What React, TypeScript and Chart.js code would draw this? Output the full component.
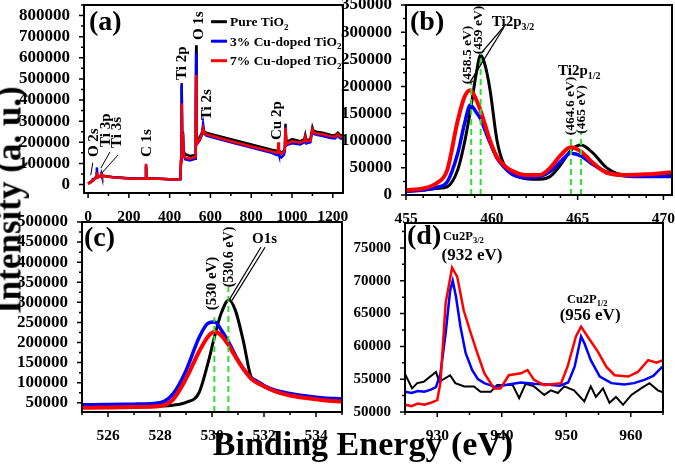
import React, { useEffect, useRef } from "react";
import { Chart, registerables } from "chart.js";

Chart.register(...registerables);

const FONT = "'Liberation Serif', 'Times New Roman', Times, serif";
const BLACK = "#000000";
const BLUE = "#0000ff";
const RED = "#ff0000";
const GREEN = "#2ee02e";

// ---------- (a) survey spectrum ----------
const SURVEY_E = [0, 15, 22, 24, 30, 40, 43, 46, 55, 62, 65, 68, 80, 120, 200, 280, 284, 288, 350, 420, 452, 456, 459, 462, 465, 468, 475, 500, 525, 528, 530, 532, 536, 548, 558, 564, 570, 580, 600, 700, 800, 900, 925, 930, 933, 936, 948, 960, 965, 968, 972, 980, 1000, 1040, 1060, 1065, 1070, 1090, 1100, 1105, 1120, 1150, 1190, 1210, 1225, 1235, 1250];
const SURVEY_PURE = [6000, 14000, 22000, 26000, 26000, 35000, 60000, 33000, 38000, 40000, 48000, 40000, 40000, 36000, 30000, 28000, 85000, 30000, 27000, 24000, 26000, 120000, 470000, 180000, 250000, 160000, 145000, 135000, 140000, 300000, 660000, 250000, 205000, 225000, 245000, 270000, 250000, 245000, 240000, 215000, 190000, 165000, 160000, 160000, 165000, 160000, 150000, 160000, 175000, 288000, 200000, 205000, 215000, 205000, 215000, 235000, 210000, 215000, 270000, 255000, 250000, 245000, 235000, 232000, 245000, 235000, 230000];
const SURVEY_CU3 = [4000, 12000, 20000, 24000, 25000, 38000, 81000, 34000, 38000, 42000, 52000, 40000, 40000, 34000, 29000, 27000, 95000, 28000, 27000, 24000, 25000, 110000, 481000, 170000, 245000, 150000, 120000, 114000, 122000, 280000, 622000, 230000, 195000, 210000, 235000, 285000, 240000, 232000, 226000, 200000, 175000, 150000, 140000, 140000, 150000, 140000, 128000, 140000, 160000, 275000, 185000, 190000, 195000, 190000, 200000, 222000, 195000, 200000, 255000, 240000, 235000, 230000, 220000, 218000, 232000, 220000, 215000];
const SURVEY_CU7 = [3000, 11000, 19000, 22000, 24000, 33000, 58000, 33000, 37000, 40000, 47000, 40000, 40000, 35000, 29000, 27000, 98000, 28000, 27000, 24000, 25000, 110000, 384000, 160000, 240000, 150000, 128000, 122000, 130000, 250000, 518000, 220000, 195000, 215000, 240000, 265000, 245000, 238000, 232000, 205000, 180000, 157000, 150000, 150000, 200000, 160000, 145000, 155000, 170000, 270000, 190000, 195000, 205000, 198000, 208000, 225000, 205000, 208000, 260000, 248000, 242000, 238000, 228000, 226000, 238000, 228000, 224000];
const A_XTICKS = [0, 200, 400, 600, 800, 1000, 1200];
const A_YTICKS = [0, 100000, 200000, 300000, 400000, 500000, 600000, 700000, 800000];
const A_LABELS: [string, number, number][] = [
  ["O 1s", 544, 684000],
  ["Ti 2p", 460, 495000],
  ["Ti 2s", 583, 305000],
  ["Cu 2p", 926, 211000],
  ["C 1s", 289, 130000],
  ["O 2s", 29, 130000],
  ["Ti 3p", 88, 178000],
  ["Ti 3s", 142, 173000],
];
const A_ARROWS: [number, number, number, number][] = [
  [23, 103000, 13, 44000],
  [107, 154000, 63, 78000],
  [147, 140000, 68, 55000],
];
const LEGEND = ["Pure TiO", "3% Cu-doped TiO", "7% Cu-doped TiO"];

// ---------- (b) Ti 2p ----------
const TI_E = [455, 456, 456.8, 457.4, 458, 458.4, 458.75, 459.1, 459.35, 459.6, 459.9, 460.3, 460.7, 461.2, 462, 462.8, 463.4, 464, 464.6, 465.2, 465.9, 466.7, 467.8, 469, 470.5];
const TI_PURE = [7000, 9000, 12000, 15000, 45000, 95000, 155000, 225000, 258000, 240000, 193000, 101000, 57000, 40000, 30000, 29000, 34000, 55000, 82000, 92000, 77000, 50000, 37000, 37000, 40000];
const TI_CU3 = [7000, 9000, 14000, 24000, 75000, 130000, 166000, 152000, 140000, 120000, 96000, 68000, 52000, 38000, 32000, 34000, 43000, 61000, 77000, 72000, 56000, 42000, 35000, 34000, 34000];
const TI_CU7 = [9000, 12000, 22000, 46000, 135000, 180000, 193000, 175000, 155000, 130000, 100000, 70000, 55000, 44000, 37000, 37000, 50000, 73000, 88000, 80000, 59000, 41000, 37000, 38000, 42000];
const B_XTICKS = [455, 460, 465, 470];
const B_YTICKS = [0, 50000, 100000, 150000, 200000, 250000, 300000, 350000];
const TI_MARK_E = [458.8, 459.35, 464.61, 465.2];
const TI_MARK_TOP = [208000, 261000, 114000, 114000];

// ---------- (c) O 1s ----------
const O_E = [525, 526, 527, 528, 528.5, 529, 529.5, 529.85, 530.1, 530.35, 530.65, 530.9, 531.2, 531.5, 531.7, 532, 532.4, 533, 533.7, 534.3, 535];
const O_PURE = [41000, 41000, 41000, 42000, 44000, 51000, 75000, 150000, 215000, 272000, 306000, 280000, 205000, 115000, 104000, 90000, 79000, 70000, 63000, 59000, 57000];
const O_CU3 = [45000, 45500, 46500, 50000, 72000, 130000, 212000, 248000, 251000, 232000, 200000, 168000, 135000, 113000, 105000, 93000, 82000, 73000, 66000, 62000, 60000];
const O_CU7 = [37500, 38000, 39500, 42000, 58000, 110000, 177000, 215000, 227000, 218000, 192000, 165000, 135000, 110000, 101000, 91000, 79000, 68000, 61000, 56000, 53000];
const C_XTICKS = [526, 528, 530, 532, 534];
const C_YTICKS = [50000, 100000, 150000, 200000, 250000, 300000, 350000, 400000, 450000, 500000];
const O_MARK_E = [530.09, 530.63];
const O_MARK_TOP = [263000, 338000];

// ---------- (d) Cu 2p ----------
const CU_E_PURE = [925, 926.1, 926.9, 927.9, 929.8, 930.3, 932, 932.8, 934.2, 935.7, 936.7, 938.3, 939.3, 941.7, 942.7, 943.7, 945, 946.6, 947.6, 948.7, 949.7, 951.2, 952.8, 953.8, 954.6, 955.7, 956.7, 957.7, 958.8, 960.1, 961.6, 962.9, 964.2, 965];
const CU_PURE = [55800, 53600, 54400, 54600, 56100, 54600, 55600, 54400, 53900, 53900, 53100, 53100, 54100, 54100, 52100, 54300, 53900, 52600, 53300, 52900, 53900, 53300, 51600, 53900, 52300, 53600, 51400, 52300, 51100, 52600, 53600, 54400, 53300, 53000];
const CU_E_CU3 = [925, 926, 927, 928, 929, 929.8, 930.5, 931.3, 932, 932.4, 932.9, 933.6, 934.4, 935.4, 936.3, 937.3, 939, 941, 943, 945, 947, 949, 950.3, 951.3, 952.3, 952.8, 953.8, 955.2, 957, 959, 960.5, 962.1, 963.5, 965];
const CU_CU3 = [53100, 52900, 53200, 53100, 53400, 53800, 55900, 62000, 68500, 70000, 67600, 63000, 59000, 56400, 55000, 54400, 53800, 54200, 54500, 54300, 54200, 54000, 54500, 56900, 61500, 60500, 57900, 55400, 54400, 54200, 54400, 54900, 55500, 57000];
const CU_E_CU7 = [925, 926, 927, 928, 929, 930, 930.5, 931.3, 932.3, 933.1, 934.1, 935.2, 936.2, 937.3, 938.8, 939.8, 941.1, 943, 944, 945, 946.6, 949.2, 950.2, 951.5, 952.3, 953.3, 954.9, 956.2, 957.5, 959.6, 961.1, 962.7, 964, 965];
const CU_CU7 = [51100, 50900, 51300, 51100, 51400, 51800, 54500, 66600, 72000, 70600, 65500, 62000, 59000, 55900, 53600, 53600, 55600, 55900, 56400, 54900, 54100, 54400, 56900, 61500, 63000, 61500, 59200, 56900, 55600, 55400, 56100, 57900, 57500, 57900];
const D_XTICKS = [930, 940, 950, 960];
const D_YTICKS = [50000, 55000, 60000, 65000, 70000, 75000];

// ---------- helpers ----------
const YW = 82, XH = 32, PT = 12, PR = 16;

type Geo = { L: number; T: number; R: number; B: number };
type AxisSpec = { min: number; max: number; ticks: number[]; minor: number; size: number };
type Deco = (ctx: CanvasRenderingContext2D, X: (v: number) => number, Y: (v: number) => number, ca: any) => void;

function txt(ctx: CanvasRenderingContext2D, s: string, x: number, y: number, size: number, align: CanvasTextAlign = "left", base: CanvasTextBaseline = "alphabetic") {
  ctx.font = `bold ${size}px ${FONT}`;
  ctx.textAlign = align;
  ctx.textBaseline = base;
  ctx.fillStyle = "#000";
  ctx.fillText(s, x, y);
}
function vtxt(ctx: CanvasRenderingContext2D, s: string, x: number, y: number, size: number, align: CanvasTextAlign = "left") {
  ctx.save();
  ctx.translate(x, y);
  ctx.rotate(-Math.PI / 2);
  txt(ctx, s, 0, 0, size, align, "middle");
  ctx.restore();
}
function subTxt(ctx: CanvasRenderingContext2D, main: string, sub: string, x: number, y: number, size: number, subSize: number) {
  txt(ctx, main, x, y, size);
  const w = ctx.measureText(main).width;
  txt(ctx, sub, x + w, y + size * 0.28, subSize);
}
function seg(ctx: CanvasRenderingContext2D, x1: number, y1: number, x2: number, y2: number) {
  ctx.beginPath();
  ctx.moveTo(x1, y1);
  ctx.lineTo(x2, y2);
  ctx.stroke();
}
function minorVals(a: AxisSpec) {
  const out: number[] = [];
  const start = Math.ceil(a.min / a.minor) * a.minor;
  for (let v = start; v <= a.max + 1e-9; v += a.minor) {
    const r = Math.round(v * 1000) / 1000;
    if (!a.ticks.some((t) => Math.abs(t - r) < 1e-6)) out.push(r);
  }
  return out;
}

const curve = (xs: number[], ys: number[], color: string, width: number, order: number, smooth = false) => ({
  data: xs.map((x, i) => ({ x, y: ys[i] })),
  borderColor: color,
  backgroundColor: color,
  borderWidth: width,
  pointRadius: 0,
  fill: false,
  tension: 0,
  cubicInterpolationMode: smooth ? "monotone" : "default",
  order,
});
const marker = (x: number, bottom: number, top: number) => ({
  data: [{ x, y: bottom }, { x, y: top }],
  borderColor: GREEN,
  borderWidth: 2,
  borderDash: [6, 4],
  pointRadius: 0,
  fill: false,
  order: 0,
});

function buildConfig(xa: AxisSpec, ya: AxisSpec, datasets: any[], deco: Deco) {
  const plugin = {
    id: "deco",
    afterDraw(chart: any) {
      const ctx: CanvasRenderingContext2D = chart.ctx;
      const ca = chart.chartArea;
      const xs = chart.scales.x;
      const ys = chart.scales.y;
      const X = (v: number) => xs.getPixelForValue(v);
      const Y = (v: number) => ys.getPixelForValue(v);
      ctx.save();
      ctx.strokeStyle = "#000";
      ctx.lineWidth = 2;
      ctx.strokeRect(ca.left, ca.top, ca.right - ca.left, ca.bottom - ca.top);
      ctx.lineWidth = 1.5;
      ctx.beginPath();
      xa.ticks.forEach((v) => { const p = X(v); ctx.moveTo(p, ca.bottom); ctx.lineTo(p, ca.bottom + 5); });
      minorVals(xa).forEach((v) => { const p = X(v); ctx.moveTo(p, ca.bottom); ctx.lineTo(p, ca.bottom + 3); });
      ya.ticks.forEach((v) => { const p = Y(v); ctx.moveTo(ca.left, p); ctx.lineTo(ca.left - 5, p); });
      minorVals(ya).forEach((v) => { const p = Y(v); ctx.moveTo(ca.left, p); ctx.lineTo(ca.left - 3, p); });
      ctx.stroke();
      ctx.strokeStyle = "#000";
      ctx.lineWidth = 1.2;
      deco(ctx, X, Y, ca);
      ctx.restore();
    },
  };
  return {
    type: "line",
    data: { datasets },
    options: {
      responsive: false,
      animation: false,
      devicePixelRatio: 1,
      layout: { padding: { top: PT, right: PR, left: 0, bottom: 0 } },
      plugins: { legend: { display: false }, tooltip: { enabled: false }, title: { display: false } },
      elements: { point: { radius: 0 } },
      scales: {
        x: {
          type: "linear",
          min: xa.min,
          max: xa.max,
          grid: { display: false },
          border: { display: false },
          afterBuildTicks: (s: any) => { s.ticks = xa.ticks.map((v) => ({ value: v })); },
          afterFit: (s: any) => { s.height = XH; s.paddingLeft = 0; s.paddingRight = 0; },
          ticks: { autoSkip: false, maxRotation: 0, padding: 7, color: "#000", font: { family: FONT, weight: "bold", size: xa.size }, callback: (v: any) => String(v) },
        },
        y: {
          type: "linear",
          min: ya.min,
          max: ya.max,
          grid: { display: false },
          border: { display: false },
          afterBuildTicks: (s: any) => { s.ticks = ya.ticks.map((v) => ({ value: v })); },
          afterFit: (s: any) => { s.width = YW; s.paddingTop = 0; s.paddingBottom = 0; },
          ticks: { autoSkip: false, padding: 6, color: "#000", font: { family: FONT, weight: "bold", size: ya.size }, callback: (v: any) => String(v) },
        },
      },
    },
    plugins: [plugin],
  };
}

function Panel({ geo, make }: { geo: Geo; make: () => any }) {
  const ref = useRef<HTMLCanvasElement>(null);
  const w = geo.R - geo.L + YW + PR;
  const h = geo.B - geo.T + PT + XH;
  useEffect(() => {
    const chart = new Chart(ref.current as HTMLCanvasElement, make());
    return () => chart.destroy();
  }, []);
  return (
    <canvas
      ref={ref}
      width={w}
      height={h}
      style={{ position: "absolute", left: geo.L - YW, top: geo.T - PT, width: w, height: h }}
    />
  );
}

// ---------- panels ----------
const GEO_A: Geo = { L: 84, T: 5, R: 343, B: 193 };
const GEO_B: Geo = { L: 406, T: 5, R: 672, B: 195 };
const GEO_C: Geo = { L: 82, T: 222, R: 342, B: 412 };
const GEO_D: Geo = { L: 405, T: 223, R: 663, B: 412 };

const makeA = () =>
  buildConfig(
    { min: -20, max: 1250, ticks: A_XTICKS, minor: 100, size: 15.5 },
    { min: -40000, max: 850000, ticks: A_YTICKS, minor: 50000, size: 17 },
    [
      curve(SURVEY_E, SURVEY_PURE, BLACK, 2.5, 3),
      curve(SURVEY_E, SURVEY_CU3, BLUE, 2.5, 2),
      curve(SURVEY_E, SURVEY_CU7, RED, 2.5, 1),
    ],
    (ctx, X, Y, ca) => {
      txt(ctx, "(a)", ca.left + 5, ca.top + 17.5, 28, "left", "middle");
      [BLACK, BLUE, RED].forEach((c, i) => {
        const yy = ca.top + 16.7 + i * 19.5;
        ctx.strokeStyle = c;
        ctx.lineWidth = 3;
        seg(ctx, ca.left + 127, yy, ca.left + 143, yy);
        subTxt(ctx, LEGEND[i], "2", ca.left + 146, yy + 4.5, 13.5, 9);
      });
      A_LABELS.forEach(([s, x, y]) => vtxt(ctx, s, X(x), Y(y), 15));
      ctx.strokeStyle = "#000";
      ctx.lineWidth = 1;
      A_ARROWS.forEach(([x1, y1, x2, y2]) => seg(ctx, X(x1), Y(y1), X(x2), Y(y2)));
    }
  );

const makeB = () =>
  buildConfig(
    { min: 455, max: 470.5, ticks: B_XTICKS, minor: 1, size: 15.5 },
    { min: 0, max: 350000, ticks: B_YTICKS, minor: 25000, size: 17 },
    [
      curve(TI_E, TI_PURE, BLACK, 3, 3, true),
      curve(TI_E, TI_CU3, BLUE, 3.5, 2, true),
      curve(TI_E, TI_CU7, RED, 4, 1, true),
      ...TI_MARK_E.map((e, i) => marker(e, 0, TI_MARK_TOP[i])),
    ],
    (ctx, X, Y, ca) => {
      txt(ctx, "(b)", ca.left + 4, ca.top + 17.5, 28, "left", "middle");
      subTxt(ctx, "Ti2p", "3/2", X(460.0), Y(311000), 15, 10);
      seg(ctx, X(460.83), Y(315000), X(459.43), Y(263000));
      seg(ctx, X(460.71), Y(309000), X(458.73), Y(208000));
      vtxt(ctx, "(458.5 eV)", X(458.61), Y(258000), 13.5, "center");
      vtxt(ctx, "(459 eV)", X(459.22), Y(304000), 13.5, "center");
      subTxt(ctx, "Ti2p", "1/2", X(463.86), Y(221000), 15, 10);
      vtxt(ctx, "(464.6 eV)", X(464.61), Y(164000), 13.5, "center");
      vtxt(ctx, "(465 eV)", X(465.23), Y(157500), 13.5, "center");
    }
  );

const makeC = () =>
  buildConfig(
    { min: 525, max: 535, ticks: C_XTICKS, minor: 1, size: 15.5 },
    { min: 27000, max: 500000, ticks: C_YTICKS, minor: 25000, size: 17 },
    [
      curve(O_E, O_PURE, BLACK, 3, 3, true),
      curve(O_E, O_CU3, BLUE, 3.5, 2, true),
      curve(O_E, O_CU7, RED, 4, 1, true),
      ...O_MARK_E.map((e, i) => marker(e, 27000, O_MARK_TOP[i])),
    ],
    (ctx, X, Y, ca) => {
      txt(ctx, "(c)", ca.left + 2, ca.top + 17, 28, "left", "middle");
      txt(ctx, "O1s", X(531.54), Y(447700), 15);
      seg(ctx, X(531.88), Y(437000), X(530.65), Y(305000));
      seg(ctx, X(532.04), Y(437000), X(530.77), Y(305000));
      vtxt(ctx, "(530 eV)", X(530.02), Y(346900), 15, "center");
      vtxt(ctx, "(530.6 eV)", X(530.65), Y(412900), 14, "center");
    }
  );

const makeD = () =>
  buildConfig(
    { min: 925, max: 965, ticks: D_XTICKS, minor: 5, size: 15.5 },
    { min: 50000, max: 78800, ticks: D_YTICKS, minor: 2500, size: 15 },
    [
      curve(CU_E_PURE, CU_PURE, BLACK, 2, 3),
      curve(CU_E_CU3, CU_CU3, BLUE, 2.5, 2),
      curve(CU_E_CU7, CU_CU7, RED, 2.5, 1),
    ],
    (ctx, X, Y, ca) => {
      txt(ctx, "(d)", ca.left + 2, ca.top + 14, 28, "left", "middle");
      subTxt(ctx, "Cu2P", "3/2", X(930.9), Y(76210), 12.5, 8.5);
      txt(ctx, "(932 eV)", X(935.39), Y(73770), 17, "center", "middle");
      subTxt(ctx, "Cu2P", "1/2", X(950.1), Y(66610), 12.5, 8.5);
      txt(ctx, "(956 eV)", X(953.7), Y(64630), 17, "center", "middle");
    }
  );

export default function App() {
  return (
    <div style={{ position: "fixed", left: 0, top: 0, width: 675, height: 467, overflow: "hidden", background: "#fff" }}>
      <Panel geo={GEO_A} make={makeA} />
      <Panel geo={GEO_B} make={makeB} />
      <Panel geo={GEO_C} make={makeC} />
      <Panel geo={GEO_D} make={makeD} />
      <div
        style={{
          position: "absolute",
          left: 363,
          top: 427,
          transform: "translateX(-50%)",
          font: `bold 34px ${FONT}`,
          lineHeight: "34px",
          whiteSpace: "nowrap",
          color: "#000",
        }}
      >
        Binding Energy (eV)
      </div>
      <div
        style={{
          position: "absolute",
          left: 9,
          top: 200,
          transform: "translate(-50%, -50%) rotate(-90deg)",
          font: `bold 35px ${FONT}`,
          lineHeight: "35px",
          whiteSpace: "nowrap",
          color: "#000",
        }}
      >
        Intensity (a. u.)
      </div>
    </div>
  );
}
